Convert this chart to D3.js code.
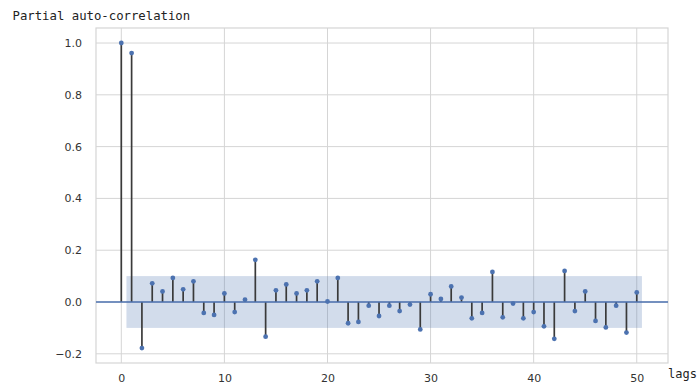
<!DOCTYPE html>
<html>
<head>
<meta charset="utf-8">
<script src="https://cdn.jsdelivr.net/npm/d3@7"></script>
<style>
  html, body { margin: 0; padding: 0; background: #fff; }
  svg { display: block; }
</style>
</head>
<body>
<svg id="chart" width="697" height="385"></svg>
<script>
// Partial autocorrelation by lag
const lags = d3.range(0, 51);
const pacf = [
  1.000, 0.961, -0.178, 0.072, 0.041, 0.093, 0.049, 0.080, -0.042, -0.050,
  0.033, -0.039, 0.009, 0.163, -0.134, 0.045, 0.068, 0.033, 0.045, 0.080,
  0.002, 0.093, -0.082, -0.077, -0.014, -0.054, -0.014, -0.035, -0.010, -0.106,
  0.030, 0.012, 0.060, 0.017, -0.063, -0.042, 0.116, -0.059, -0.006, -0.063,
  -0.039, -0.094, -0.142, 0.120, -0.035, 0.041, -0.073, -0.098, -0.014, -0.118,
  0.037
];
const confBand = [-0.1, 0.1];       // confidence interval half-width
const bandLags = [0.5, 50.5];
const xTicks = [0, 10, 20, 30, 40, 50];
const yTicks = [-0.2, 0.0, 0.2, 0.4, 0.6, 0.8, 1.0];
const titleText = "Partial auto-correlation";
const xLabelText = "lags";

const box = { left: 96, right: 668, top: 28, bottom: 363 };
const blue = "#4c72b0";

const svg = d3.select("#chart");

const x = d3.scaleLinear().domain([-2.454, 53.03]).range([box.left, box.right]);
const y = d3.scaleLinear().domain([-0.2355, 1.058]).range([box.bottom, box.top]);

// grid
const grid = svg.append("g");
grid.selectAll("line.gx").data(xTicks).join("line")
  .attr("x1", d => x(d)).attr("x2", d => x(d))
  .attr("y1", box.top).attr("y2", box.bottom)
  .attr("stroke", "#d5d5d5").attr("stroke-width", 1);
grid.selectAll("line.gy").data(yTicks).join("line")
  .attr("x1", box.left).attr("x2", box.right)
  .attr("y1", d => y(d)).attr("y2", d => y(d))
  .attr("stroke", "#d5d5d5").attr("stroke-width", 1);

// frame
svg.append("rect")
  .attr("x", box.left).attr("y", box.top)
  .attr("width", box.right - box.left).attr("height", box.bottom - box.top)
  .attr("fill", "none").attr("stroke", "#d5d5d5").attr("stroke-width", 1.2);

// confidence band
svg.append("rect")
  .attr("x", x(bandLags[0])).attr("width", x(bandLags[1]) - x(bandLags[0]))
  .attr("y", y(confBand[1])).attr("height", y(confBand[0]) - y(confBand[1]))
  .attr("fill", blue).attr("fill-opacity", 0.25);

// stems
svg.append("g").selectAll("line").data(lags).join("line")
  .attr("x1", d => x(d)).attr("x2", d => x(d))
  .attr("y1", y(0)).attr("y2", d => y(pacf[d]))
  .attr("stroke", "#3a3a3a").attr("stroke-width", 1.7);

// zero line
svg.append("line")
  .attr("x1", box.left).attr("x2", box.right)
  .attr("y1", y(0)).attr("y2", y(0))
  .attr("stroke", blue).attr("stroke-width", 1.5);

// markers
svg.append("g").selectAll("circle").data(lags).join("circle")
  .attr("cx", d => x(d)).attr("cy", d => y(pacf[d]))
  .attr("r", 2.4).attr("fill", blue);

// axes (labels only)
const yAxis = svg.append("g")
  .attr("transform", `translate(${box.left},0)`)
  .call(d3.axisLeft(y).tickValues(yTicks).tickFormat(d3.format(".1f")).tickSize(0).tickPadding(14));
const xAxis = svg.append("g")
  .attr("transform", `translate(0,${box.bottom})`)
  .call(d3.axisBottom(x).tickValues(xTicks).tickFormat(d3.format("d")).tickSize(0).tickPadding(11));
[yAxis, xAxis].forEach(a => {
  a.select(".domain").remove();
  a.selectAll("text")
    .attr("fill", "#333")
    .style("font-family", "'DejaVu Sans', sans-serif")
    .style("font-size", "11px");
});
yAxis.selectAll("text").text(d => d3.format(".1f")(d).replace("-", "\u2212"));

// titles
svg.append("text")
  .attr("x", 12.5).attr("y", 20)
  .style("font-family", "'DejaVu Sans Mono', monospace")
  .style("font-size", "12.3px").attr("fill", "#222")
  .text(titleText);
svg.append("text")
  .attr("x", 668).attr("y", 378)
  .style("font-family", "'DejaVu Sans Mono', monospace")
  .style("font-size", "12px").attr("fill", "#222")
  .text(xLabelText);
</script>
</body>
</html>
